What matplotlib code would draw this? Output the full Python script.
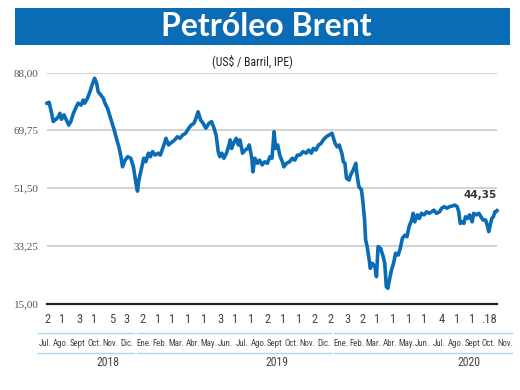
import matplotlib
matplotlib.use("Agg")
import matplotlib.pyplot as plt
import matplotlib.dates as mdates
from matplotlib import font_manager
from matplotlib.lines import Line2D
import matplotlib.transforms as mtransforms
import pandas as pd

# ---------------- data ----------------
dates = ["2018-07-02","2018-07-06","2018-07-11","2018-07-14","2018-07-19","2018-07-24","2018-07-27","2018-07-30",
"2018-08-04","2018-08-09","2018-08-13","2018-08-17","2018-08-22","2018-08-28","2018-08-31","2018-09-06",
"2018-09-10","2018-09-13","2018-09-18","2018-09-23","2018-09-26","2018-10-02","2018-10-06","2018-10-09",
"2018-10-14","2018-10-19","2018-10-22","2018-10-27","2018-11-01","2018-11-04","2018-11-09","2018-11-14",
"2018-11-18","2018-11-22","2018-11-25","2018-11-30","2018-12-05","2018-12-11","2018-12-16","2018-12-19",
"2018-12-22","2018-12-24","2018-12-26","2018-12-31","2019-01-05","2019-01-09","2019-01-14","2019-01-18",
"2019-01-22","2019-01-27","2019-02-02","2019-02-06","2019-02-13","2019-02-17","2019-02-22","2019-03-01",
"2019-03-06","2019-03-11","2019-03-16","2019-03-21","2019-03-27","2019-04-02","2019-04-07","2019-04-12",
"2019-04-16","2019-04-20","2019-04-25","2019-04-30","2019-05-05","2019-05-11","2019-05-16","2019-05-21",
"2019-05-25","2019-05-29","2019-06-01","2019-06-05","2019-06-09","2019-06-14","2019-06-19","2019-06-21",
"2019-06-24","2019-06-29","2019-07-03","2019-07-07","2019-07-10","2019-07-15","2019-07-20","2019-07-25",
"2019-07-28","2019-08-02","2019-08-04","2019-08-08","2019-08-13","2019-08-17","2019-08-22","2019-08-27",
"2019-09-01","2019-09-06","2019-09-10","2019-09-14","2019-09-17","2019-09-21","2019-09-25","2019-09-30",
"2019-10-03","2019-10-08","2019-10-14","2019-10-19","2019-10-24","2019-10-29","2019-11-03","2019-11-09",
"2019-11-15","2019-11-20","2019-11-25","2019-11-29","2019-12-04","2019-12-09","2019-12-14","2019-12-18",
"2019-12-24","2019-12-29","2020-01-04","2020-01-07","2020-01-10","2020-01-14","2020-01-18","2020-01-23",
"2020-01-26","2020-01-29","2020-02-01","2020-02-06","2020-02-09","2020-02-14","2020-02-19","2020-02-21",
"2020-02-25","2020-03-01","2020-03-04","2020-03-07","2020-03-09","2020-03-12","2020-03-16","2020-03-18",
"2020-03-22","2020-03-27","2020-03-30","2020-04-02","2020-04-07","2020-04-12","2020-04-15","2020-04-18",
"2020-04-21","2020-04-24","2020-04-28","2020-05-02","2020-05-06","2020-05-11","2020-05-15","2020-05-19",
"2020-05-24","2020-05-28","2020-06-01","2020-06-06","2020-06-09","2020-06-12","2020-06-17","2020-06-21",
"2020-06-25","2020-06-30","2020-07-05","2020-07-10","2020-07-15","2020-07-19","2020-07-24","2020-07-30",
"2020-08-03","2020-08-08","2020-08-13","2020-08-18","2020-08-23","2020-08-29","2020-09-02","2020-09-05",
"2020-09-08","2020-09-11","2020-09-15","2020-09-18","2020-09-22","2020-09-26","2020-10-01","2020-10-04",
"2020-10-09","2020-10-14","2020-10-18","2020-10-22","2020-10-27","2020-10-31","2020-11-02","2020-11-05",
"2020-11-08","2020-11-11","2020-11-14","2020-11-16","2020-11-18"]

prices = [78.3,78.6,75.1,72.5,73.2,74.0,75.1,73.2,
74.6,72.8,71.4,72.5,75.1,77.2,78.3,77.7,
79.3,78.3,79.8,81.9,83.5,86.2,84.6,81.9,
80.9,79.8,78.3,76.7,74.0,72.5,69.8,66.7,
64.5,61.4,58.2,60.3,61.4,60.9,58.2,55.1,
52.0,50.5,53.5,57.2,60.9,59.8,62.5,61.4,
63.0,61.9,62.5,61.9,65.1,67.2,65.1,66.1,
66.7,67.7,67.2,68.2,68.8,70.4,71.4,71.9,
73.5,75.6,73.0,71.9,70.4,71.9,72.5,70.4,
68.2,63.0,61.4,62.5,60.9,62.5,65.1,66.7,
64.0,66.1,67.2,65.1,66.7,62.5,63.5,64.0,
65.1,60.9,56.6,60.9,59.3,60.3,58.8,59.8,
59.3,61.4,60.9,69.3,64.0,65.1,61.9,59.8,
58.2,59.3,59.8,60.9,60.3,61.9,61.9,63.0,
62.5,63.5,62.5,64.0,63.5,65.1,65.6,66.7,
67.7,68.2,68.8,67.2,65.6,64.5,65.1,62.5,
59.8,59.3,54.6,54.0,55.6,57.2,59.3,56.1,
51.9,50.9,46.7,41.4,35.1,33.0,28.7,26.1,
27.7,26.6,23.5,33.0,32.4,29.8,27.7,20.3,
19.8,22.4,25.6,27.7,30.9,30.3,32.4,35.6,
36.6,36.1,39.3,41.4,43.5,40.8,43.0,41.9,
43.5,43.0,44.0,43.5,44.0,44.5,43.5,44.0,
45.1,45.6,45.1,45.6,45.8,46.1,45.6,44.0,
40.3,40.8,40.3,42.4,41.9,43.0,40.8,43.5,
43.0,43.5,42.4,41.4,41.4,39.3,37.7,39.8,
41.9,42.4,44.0,44.0,44.35]

yticks = [15.00, 33.25, 51.50, 69.75, 88.00]
tick_dates = ["2018-07-02","2018-08-01","2018-09-03","2018-10-01","2018-11-05","2018-12-03",
"2019-01-02","2019-02-01","2019-03-01","2019-04-01","2019-05-01","2019-06-03","2019-07-01",
"2019-08-01","2019-09-02","2019-10-01","2019-11-01","2019-12-02","2020-01-02","2020-02-03",
"2020-03-02","2020-04-01","2020-05-01","2020-06-01","2020-07-01","2020-08-04","2020-09-01",
"2020-10-01","2020-11-02"]
day_labels = ["2","1","3","1","5","3","2","1","1","1","1","3","1","1","2","1","1","2","2","3",
"2","1","1","1","1","4","1","1",".18"]
month_labels = ["Jul.","Ago.","Sept","Oct.","Nov.","Dic.","Ene.","Feb.","Mar.","Abr.","May.","Jun.",
"Jul.","Ago.","Sept","Oct.","Nov.","Dic.","Ene.","Feb.","Mar.","Abr.","May.","Jun.","Jul.",
"Ago.","Sept","Oct.","Nov."]
years = ["2018", "2019", "2020"]
title = "Petróleo Brent"
subtitle = "(US$ / Barril, IPE)"
last_label = "44,35"

# ---------------- fonts ----------------
avail = {f.name for f in font_manager.fontManager.ttflist}
def pick(*names):
    for n in names:
        if n in avail:
            return n
    return "DejaVu Sans"
NARROW = pick("Liberation Sans Narrow", "Roboto Condensed", "Open Sans Condensed", "Liberation Sans")
SERIF = pick("Liberation Serif", "DejaVu Serif")
TITLEF = pick("Lato", "Open Sans", "DejaVu Sans")

BLUE = "#0b6cb6"
W, H = 520, 390
fig = plt.figure(figsize=(5.2, 3.9), dpi=100)
fig.patch.set_facecolor("white")

def fx(px): return px / W
def fy(py): return 1 - py / H

# title banner
fig.patches.append(plt.Rectangle((fx(15), fy(44.5)), fx(510) - fx(15), fy(7.5) - fy(44.5),
                                 transform=fig.transFigure, facecolor=BLUE, edgecolor="none"))
fig.text(fx(266), fy(26), title, color="white", fontsize=23, fontweight="bold",
         family=TITLEF, ha="center", va="center")
fig.text(fx(252), fy(61.5), subtitle, color="#222222", fontsize=8.5, family=NARROW,
         ha="center", va="center")

ax = fig.add_axes([fx(47), fy(303.5), fx(497) - fx(47), fy(72.5) - fy(303.5)])
x = pd.to_datetime(dates)
ax.plot(x, prices, color=BLUE, lw=2.6, solid_joinstyle="round", clip_on=False, zorder=3)
ax.set_xlim(pd.Timestamp("2018-07-02"), pd.Timestamp("2020-11-18"))
ax.set_ylim(15, 88)
ax.set_yticks(yticks)
ax.set_yticklabels([f"{v:.2f}".replace(".", ",") for v in yticks], family=SERIF,
                   fontsize=8, color="#555555")
ax.tick_params(axis="y", length=0, pad=6)
ax.grid(axis="y", color="#cfcfcf", lw=1.3)
ax.set_axisbelow(True)
for s in ["left", "right", "top"]:
    ax.spines[s].set_visible(False)
ax.spines["bottom"].set_color("#222222")
ax.spines["bottom"].set_linewidth(1.6)
ax.set_xticks([])

trans = mtransforms.blended_transform_factory(ax.transData, fig.transFigure)
for d, lab in zip(tick_dates, day_labels):
    ax.text(mdates.date2num(pd.Timestamp(d)), fy(319.5), lab, transform=trans, ha="center",
            va="center", fontsize=9, family=NARROW, color="#444444", clip_on=False)

# month labels row
n = len(month_labels)
mx = [45 + (505 - 45) * i / (n - 1) for i in range(n)]
for px, lab in zip(mx, month_labels):
    fig.text(fx(px), fy(343), lab, ha="center", va="center", fontsize=6.4,
             family=NARROW, color="#444444")

# cyan separator lines per year group
groups = [(0, 5), (6, 17), (18, 28)]
step = (505 - 45) / (n - 1)
for a, b in groups:
    x0, x1 = mx[a] - step / 2 + 1.5, mx[b] + step / 2 - 1.5
    for yy in (332.5, 353):
        fig.lines.append(Line2D([fx(x0), fx(x1)], [fy(yy), fy(yy)], transform=fig.transFigure,
                                color="#a9d8ea", lw=1.0))

for xp, yr in zip([108, 277, 469], years):
    fig.text(fx(xp), fy(362), yr, ha="center", va="center", fontsize=8.5,
             family=NARROW, color="#444444")

ax.text(pd.Timestamp(dates[-1]), prices[-1] + 4.8, last_label, ha="right", va="center",
        fontsize=7.5, fontweight="bold", color="#333333", family="DejaVu Sans", clip_on=False)

fig.savefig("out.png", dpi=100)
